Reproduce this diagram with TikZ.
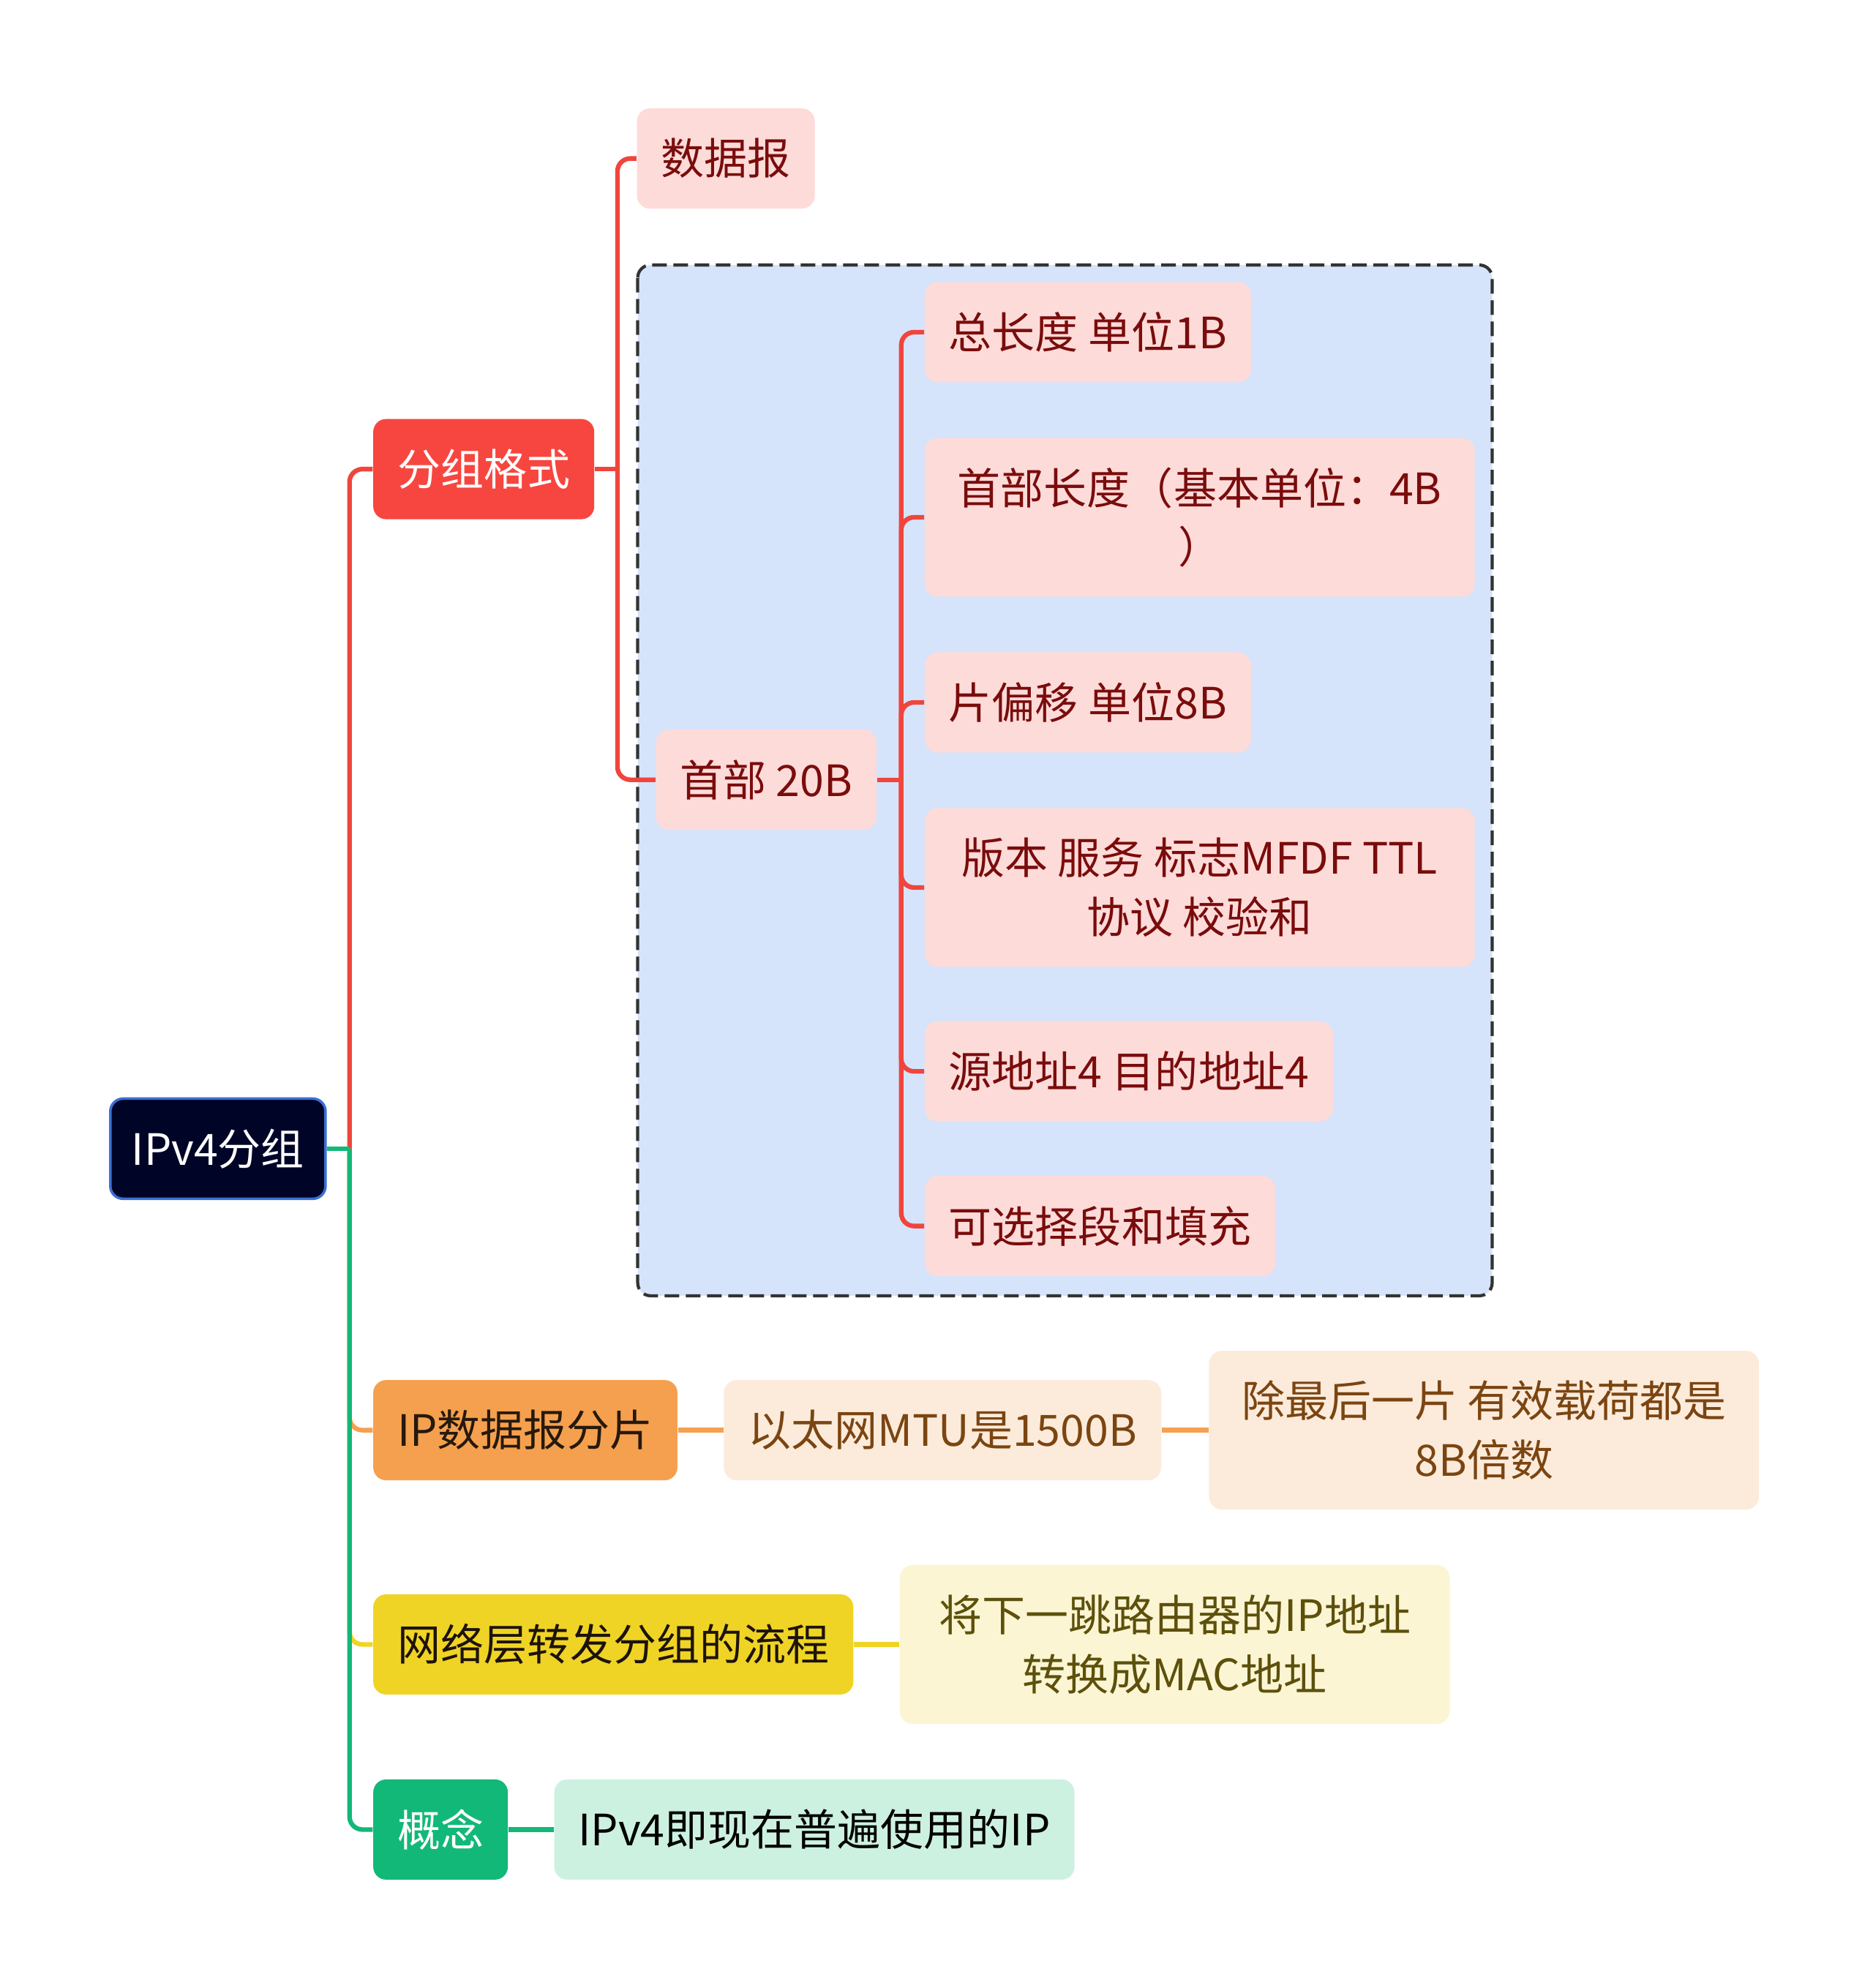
\documentclass[tikz,border=0pt]{standalone}
\usepackage{fontspec}
\setmainfont{Noto Sans CJK SC}
\usetikzlibrary{positioning}
\definecolor{cnavy}{HTML}{000527}
\definecolor{cnavyline}{HTML}{3B6FD4}
\definecolor{cred}{HTML}{F7463F}
\definecolor{credline}{HTML}{F0453D}
\definecolor{cpink}{HTML}{FDDBD9}
\definecolor{cdarkred}{HTML}{7A0C0C}
\definecolor{cblue}{HTML}{D5E4FB}
\definecolor{corange}{HTML}{F5A04E}
\definecolor{cpeach}{HTML}{FCEBDB}
\definecolor{cbrown}{HTML}{7B4511}
\definecolor{cyellow}{HTML}{F0D425}
\definecolor{cpaleyellow}{HTML}{FBF5D3}
\definecolor{colive}{HTML}{5C500B}
\definecolor{cgreen}{HTML}{12B878}
\definecolor{cmint}{HTML}{CDF1E1}
\tikzset{mindmap/.style={x=0.017333cm,y=-0.017333cm,font=\fontsize{16.8}{23}\selectfont},
  box/.style={rounded corners=5pt,inner xsep=0.33cm,inner ysep=0pt,minimum height=1.37cm,align=center,anchor=west},
  tallbox/.style={box,minimum width=7.52cm,minimum height=2.17cm},
  field/.style={box,fill=cpink,text=cdarkred},
  branch/.style={line width=1.8pt,rounded corners=5pt},
  groupbox/.style={fill=cblue,draw=black!80,line width=1.2pt,dash pattern=on 0.2cm off 0.09cm,rounded corners=5pt}}

\begin{document}
\begin{tikzpicture}[mindmap]
    \useasboundingbox (0,0) rectangle (1477,1568);
    \draw[groupbox] (503,209) rectangle (1177,1022);
    % root and main branches
    \node[box,fill=cnavy,draw=cnavyline,line width=1pt,text=white,inner xsep=0.29cm] (root) at (86,906) {IPv4分组};
    \node[box,fill=cred,text=white] (fmt) at (294,370) {分组格式};
    \node[field] (dgram) at (502,125) {数据报};
    \node[field] (hdr) at (517,615) {首部 20B};
    \node[field] (total) at (729,262) {总长度 单位1B};
    \node[field,tallbox] (hlen) at (729,408) {首部长度（基本单位：4B\\）};
    \node[field] (offs) at (729,554) {片偏移 单位8B};
    \node[field,tallbox] (misc) at (729,700) {版本 服务 标志MFDF TTL\\协议 校验和};
    \node[field] (addr) at (729,845) {源地址4 目的地址4};
    \node[field] (opt) at (729,967) {可选择段和填充};
    \node[box,fill=corange,text=black!80!brown] (frag) at (294,1128) {IP数据报分片};
    \node[box,fill=cpeach,text=cbrown,right=0.62cm of frag] (mtu) {以太网MTU是1500B};
    \node[box,tallbox,fill=cpeach,text=cbrown,right=0.64cm of mtu] (payload) {除最后一片 有效载荷都是\\8B倍数};
    \node[box,fill=cyellow,text=black!85!brown] (route) at (294,1297) {网络层转发分组的流程};
    \node[box,tallbox,fill=cpaleyellow,text=colive,right=0.62cm of route] (nexthop) {将下一跳路由器的IP地址\\转换成MAC地址};
    \node[box,fill=cgreen,text=white] (concept) at (294,1443) {概念};
    \node[box,fill=cmint,text=black,right=0.62cm of concept] (meaning) {IPv4即现在普遍使用的IP};
    % connectors
    \coordinate[right=0.31cm of root] (rootj);
    \coordinate[right=0.31cm of fmt] (fmtj);
    \coordinate[right=0.33cm of hdr] (hdrj);
    \draw[branch,credline] (rootj) |- (fmt.west);
    \draw[branch,credline] (fmt.east) -- (fmtj);
    \draw[branch,credline] (fmtj) |- (dgram.west);
    \draw[branch,credline] (fmtj) |- (hdr.west);
    \draw[branch,credline] (hdr.east) -- (hdrj);
    \foreach \f in {total,hlen,offs,misc,addr,opt}
      \draw[branch,credline] (hdrj) |- (\f.west);
    \draw[branch,corange] (rootj) |- (frag.west);
    \draw[branch,corange] (frag) -- (mtu);
    \draw[branch,corange] (mtu) -- (payload);
    \draw[branch,cyellow] (rootj) |- (route.west);
    \draw[branch,cyellow] (route) -- (nexthop);
    \draw[branch,cgreen] (root.east) -- (rootj);
    \draw[branch,cgreen] (rootj) |- (concept.west);
    \draw[branch,cgreen] (concept) -- (meaning);
\end{tikzpicture}
\end{document}
